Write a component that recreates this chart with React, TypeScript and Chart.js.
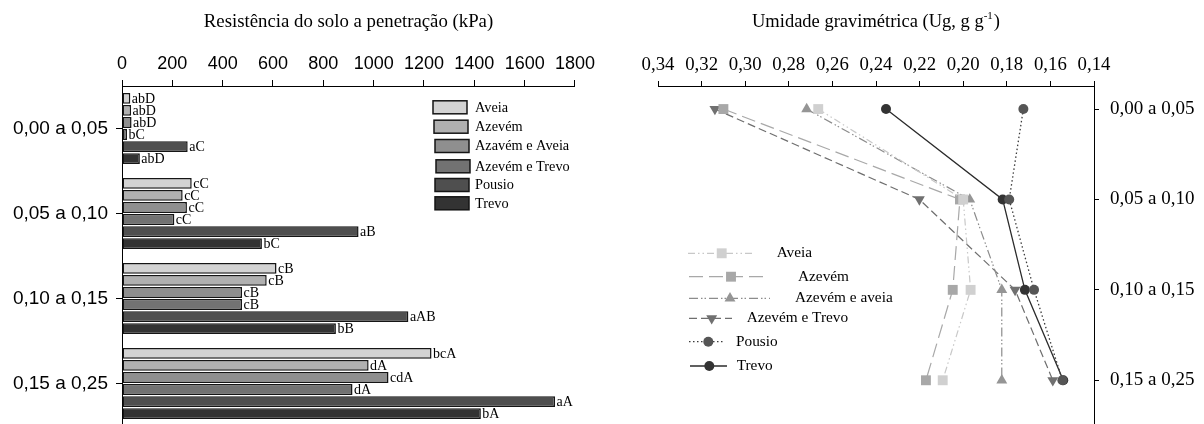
import React, { useEffect, useRef } from 'react';
import { Chart, registerables } from 'chart.js';

Chart.register(...registerables);

// ---------- data ----------
const depthLabels = ['0,00 a 0,05', '0,05 a 0,10', '0,10 a 0,15', '0,15 a 0,25'];

const barTreatments = ['Aveia', 'Azevém', 'Azavém e Aveia', 'Azevém e Trevo', 'Pousio', 'Trevo'];
const lineTreatments = ['Aveia', 'Azevém', 'Azevém e aveia', 'Azevém e Trevo', 'Pousio', 'Trevo'];

// Resistência do solo a penetração (kPa), per depth
const resAveia = [33, 277, 614, 1230];
const resAzevem = [36, 241, 575, 980];
const resAzevemAveia = [38, 258, 477, 1059];
const resAzevemTrevo = [20, 208, 477, 916];
const resPousio = [261, 940, 1138, 1721];
const resTrevo = [71, 556, 850, 1426];

// significance letters
const letAveia = ['abD', 'cC', 'cB', 'bcA'];
const letAzevem = ['abD', 'cC', 'cB', 'dA'];
const letAzevemAveia = ['abD', 'cC', 'cB', 'cdA'];
const letAzevemTrevo = ['bC', 'cC', 'cB', 'dA'];
const letPousio = ['aC', 'aB', 'aAB', 'aA'];
const letTrevo = ['abD', 'bC', 'bB', 'bA'];

// Umidade gravimétrica (g g-1), per depth
const ugAveia = [0.2665, 0.2, 0.1966, 0.2094];
const ugAzevem = [0.31, 0.2015, 0.2048, 0.2171];
const ugAzevemAveia = [0.2718, 0.197, 0.1823, 0.1823];
const ugAzevemTrevo = [0.3139, 0.2201, 0.1762, 0.1589];
const ugPousio = [0.1724, 0.1789, 0.1675, 0.1545];
const ugTrevo = [0.2354, 0.1819, 0.1717, 0.1541];

const resMax = 1800;
const resStep = 200;
const ugMin = 0.14;
const ugMax = 0.34;
const ugStep = 0.02;

// ---------- styles ----------
const SANS = '"Liberation Sans", Arial, sans-serif';
const SERIF = '"Liberation Serif", "Times New Roman", serif';

const barColors = ['#d3d3d3', '#b0b0b0', '#8f8f8f', '#727272', '#4f4f4f', '#333333'];
const lineColors = ['#c8c8c8', '#a8a8a8', '#8c8c8c', '#6e6e6e', '#3c3c3c', '#2b2b2b'];
const pointColors = ['#d0d0d0', '#a8a8a8', '#959595', '#707070', '#555555', '#333333'];
const dashes = [
  [7, 3, 1.5, 3, 1.5, 3],
  [14, 6],
  [9, 3, 1.5, 2, 1.5, 3],
  [8, 4],
  [1.5, 2.5],
  [],
];
const pointStyles = ['rect', 'rect', 'triangle', 'triangle', 'circle', 'circle'];
const pointRotations = [0, 0, 0, 180, 0, 0];
const pointRadii = [7, 7, 6.3, 6.3, 5, 5];

const barLetters = [letAveia, letAzevem, letAzevemAveia, letAzevemTrevo, letPousio, letTrevo];

// ---------- plugins ----------
const barLabelPlugin = {
  id: 'barLetters',
  afterDatasetsDraw(chart: any) {
    const ctx = chart.ctx;
    ctx.save();
    ctx.font = '14px ' + SERIF;
    ctx.fillStyle = '#000';
    ctx.textBaseline = 'middle';
    ctx.textAlign = 'left';
    chart.data.datasets.forEach((_ds: any, i: number) => {
      const meta = chart.getDatasetMeta(i);
      meta.data.forEach((bar: any, j: number) => {
        ctx.fillText(barLetters[i][j], bar.x + 1.5, bar.y + 1);
      });
    });
    ctx.restore();
  },
};

const leftLegendPlugin = {
  id: 'leftLegend',
  afterDraw(chart: any) {
    const ctx = chart.ctx;
    const ys = [107.3, 126.7, 146, 166.3, 185, 203.3];
    const xs = [433, 434, 435, 436, 435, 435];
    ctx.save();
    ctx.font = '14.3px ' + SERIF;
    ctx.textBaseline = 'middle';
    ctx.textAlign = 'left';
    chart.data.datasets.forEach((ds: any, i: number) => {
      ctx.fillStyle = ds.backgroundColor;
      ctx.fillRect(xs[i], ys[i] - 6.5, 34, 13);
      ctx.strokeStyle = '#151515';
      ctx.lineWidth = 1.5;
      ctx.strokeRect(xs[i], ys[i] - 6.5, 34, 13);
      ctx.fillStyle = '#000';
      ctx.fillText(ds.label, 475, ys[i] + 0.5);
    });
    ctx.restore();
  },
};

function drawMarker(ctx: CanvasRenderingContext2D, style: string, rot: number, r: number, x: number, y: number, color: string) {
  ctx.save();
  ctx.fillStyle = color;
  ctx.setLineDash([]);
  ctx.beginPath();
  if (style === 'rect') {
    const s = Math.SQRT1_2 * r;
    ctx.rect(x - s, y - s, 2 * s, 2 * s);
  } else if (style === 'triangle') {
    let rad = (rot * Math.PI) / 180;
    ctx.moveTo(x + Math.sin(rad) * r, y - Math.cos(rad) * r);
    rad += (2 * Math.PI) / 3;
    ctx.lineTo(x + Math.sin(rad) * r, y - Math.cos(rad) * r);
    rad += (2 * Math.PI) / 3;
    ctx.lineTo(x + Math.sin(rad) * r, y - Math.cos(rad) * r);
    ctx.closePath();
  } else {
    ctx.arc(x, y, r, 0, Math.PI * 2);
  }
  ctx.fill();
  ctx.restore();
}

const rightDecorPlugin = {
  id: 'rightDecor',
  afterDraw(chart: any) {
    const ctx = chart.ctx;
    ctx.save();
    // title with superscript
    const main = 'Umidade gravimétrica (Ug, g g';
    const sup = '-1';
    const end = ')';
    ctx.textBaseline = 'middle';
    ctx.textAlign = 'left';
    ctx.fillStyle = '#000';
    ctx.font = '18.5px ' + SERIF;
    const wMain = ctx.measureText(main).width;
    const wEnd = ctx.measureText(end).width;
    ctx.font = '11px ' + SERIF;
    const wSup = ctx.measureText(sup).width;
    const area = chart.chartArea;
    const cx = (area.left + area.right) / 2;
    let x = cx - (wMain + wSup + wEnd + 1) / 2;
    const ty = 22;
    ctx.font = '18.5px ' + SERIF;
    ctx.fillText(main, x, ty);
    x += wMain;
    ctx.font = '11px ' + SERIF;
    ctx.fillText(sup, x, ty - 6);
    x += wSup + 1;
    ctx.font = '18.5px ' + SERIF;
    ctx.fillText(end, x, ty);

    // legend
    const items = [
      { x0: 88, x1: 155, m: 121.7, y: 253.3, t: 176.7 },
      { x0: 89, x1: 168, m: 131, y: 276.7, t: 198 },
      { x0: 89, x1: 170, m: 130, y: 298.3, t: 195 },
      { x0: 89, x1: 132, m: 111.7, y: 318.3, t: 146.7 },
      { x0: 89, x1: 123, m: 108.3, y: 341.7, t: 136 },
      { x0: 90, x1: 127, m: 109.3, y: 366, t: 136.7 },
    ];
    chart.data.datasets.forEach((ds: any, i: number) => {
      const it = items[i];
      ctx.save();
      ctx.strokeStyle = ds.borderColor;
      ctx.lineWidth = ds.borderWidth;
      ctx.setLineDash(ds.borderDash || []);
      ctx.beginPath();
      ctx.moveTo(it.x0, it.y);
      ctx.lineTo(it.x1, it.y);
      ctx.stroke();
      ctx.restore();
      drawMarker(ctx, pointStyles[i], pointRotations[i], pointRadii[i], it.m, it.y, pointColors[i]);
      ctx.font = '15.3px ' + SERIF;
      ctx.fillStyle = '#000';
      ctx.textBaseline = 'middle';
      ctx.fillText(ds.label, it.t, it.y);
    });
    ctx.restore();
  },
};

// ---------- component ----------
export default function App() {
  const leftRef = useRef<HTMLCanvasElement>(null);
  const rightRef = useRef<HTMLCanvasElement>(null);

  useEffect(() => {
    Chart.defaults.color = '#000';
    const resSeries = [resAveia, resAzevem, resAzevemAveia, resAzevemTrevo, resPousio, resTrevo];
    const left = new Chart(leftRef.current as HTMLCanvasElement, {
      type: 'bar',
      data: {
        labels: depthLabels,
        datasets: barTreatments.map((name, i) => ({
          label: name,
          data: resSeries[i],
          backgroundColor: barColors[i],
          borderColor: '#151515',
          borderWidth: 1.5,
          borderSkipped: false,
          categoryPercentage: 0.85,
          barPercentage: 0.9,
        })),
      },
      options: {
        indexAxis: 'y',
        animation: false,
        responsive: false,
        devicePixelRatio: 1,
        layout: { padding: { left: 0, right: 25, top: 0, bottom: 14 } },
        plugins: { legend: { display: false }, tooltip: { enabled: false }, title: { display: false } },
        scales: {
          x: {
            type: 'linear',
            position: 'top',
            min: 0,
            max: resMax,
            afterFit: (s: any) => { s.height = 86; },
            ticks: {
              stepSize: resStep,
              autoSkip: false,
              maxRotation: 0,
              padding: 5,
              color: '#000',
              font: { family: SANS, size: 18 },
              callback: (v: any) => String(v),
            },
            grid: { drawOnChartArea: false, tickLength: 6, color: '#000', lineWidth: 1 },
            border: { display: true, color: '#000', width: 1 },
            title: {
              display: true,
              text: 'Resistência do solo a penetração (kPa)',
              color: '#000',
              font: { family: SERIF, size: 18.8 },
              padding: { top: 10.5, bottom: 0 },
            },
          },
          y: {
            type: 'category',
            position: 'left',
            offset: true,
            afterFit: (s: any) => { s.width = 122; s.paddingTop = 0; s.paddingBottom = 0; },
            ticks: { padding: 8, color: '#000', font: { family: SANS, size: 19 } },
            grid: { drawOnChartArea: false, offset: false, tickLength: 6, color: '#000' },
            border: { display: true, color: '#000', width: 1 },
          },
        },
      } as any,
      plugins: [barLabelPlugin, leftLegendPlugin],
    });

    const ugSeries = [ugAveia, ugAzevem, ugAzevemAveia, ugAzevemTrevo, ugPousio, ugTrevo];
    const right = new Chart(rightRef.current as HTMLCanvasElement, {
      type: 'line',
      data: {
        datasets: lineTreatments.map((name, i) => ({
          label: name,
          data: ugSeries[i].map((v, j) => ({ x: v, y: j })),
          borderColor: lineColors[i],
          borderWidth: i >= 4 ? 1.3 : 1.2,
          borderDash: dashes[i],
          backgroundColor: pointColors[i],
          pointBackgroundColor: pointColors[i],
          pointBorderWidth: 0,
          pointStyle: pointStyles[i],
          rotation: pointRotations[i],
          pointRotation: pointRotations[i],
          pointRadius: pointRadii[i],
          fill: false,
          tension: 0,
        })),
      },
      options: {
        indexAxis: 'y',
        animation: false,
        responsive: false,
        devicePixelRatio: 1,
        layout: { padding: { left: 58, right: 0, top: 0, bottom: 10 } },
        plugins: { legend: { display: false }, tooltip: { enabled: false }, title: { display: false } },
        scales: {
          x: {
            type: 'linear',
            position: 'top',
            min: ugMin,
            max: ugMax,
            reverse: true,
            afterFit: (s: any) => { s.height = 86; },
            ticks: {
              stepSize: ugStep,
              autoSkip: false,
              maxRotation: 0,
              padding: 4.6,
              color: '#000',
              font: { family: SERIF, size: 18.8 },
              callback: (v: any) => Number(v).toFixed(2).replace('.', ','),
            },
            grid: { drawOnChartArea: false, tickLength: 5, color: '#000' },
            border: { display: true, color: '#000', width: 1 },
          },
          y: {
            type: 'linear',
            position: 'right',
            min: -0.255,
            max: 3.55,
            reverse: true,
            afterFit: (s: any) => { s.width = 110; s.paddingTop = 0; s.paddingBottom = 0; },
            afterBuildTicks: (s: any) => { s.ticks = depthLabels.map((_l, i) => ({ value: i })); },
            ticks: {
              padding: 11,
              autoSkip: false,
              color: '#000',
              font: { family: SERIF, size: 19 },
              callback: (v: any) => depthLabels[Math.round(Number(v))],
            },
            grid: { drawOnChartArea: false, tickLength: 5, color: '#000' },
            border: { display: true, color: '#000', width: 1 },
          },
        },
      } as any,
      plugins: [rightDecorPlugin],
    });

    return () => {
      left.destroy();
      right.destroy();
    };
  }, []);

  return (
    <div style={{ position: 'fixed', left: 0, top: 0, width: 1204, height: 424, overflow: 'hidden', background: '#fff' }}>
      <canvas ref={leftRef} width={600} height={440} style={{ position: 'absolute', left: 0, top: 0, width: 600, height: 440 }} />
      <canvas ref={rightRef} width={604} height={440} style={{ position: 'absolute', left: 600, top: 0, width: 604, height: 440 }} />
    </div>
  );
}
